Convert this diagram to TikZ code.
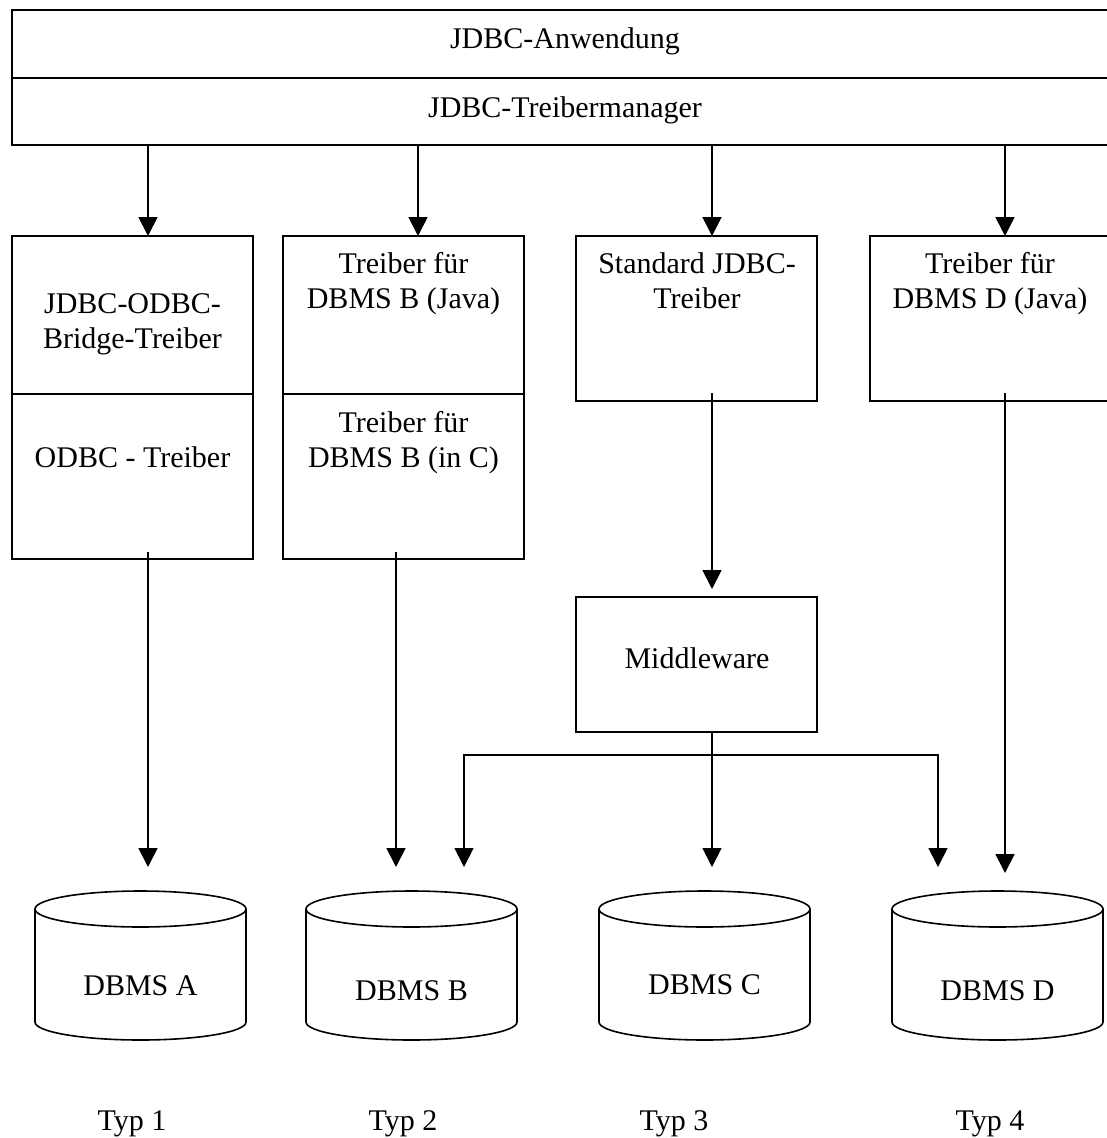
\documentclass[tikz,border=0pt]{standalone}
\usepackage{fontspec}
\setmainfont{Liberation Serif}
\usetikzlibrary{arrows.meta}
\newcommand\twolines[2]{\begin{tabular}[t]{@{}c@{}}#1\\#2\end{tabular}}
\begin{document}
\begin{tikzpicture}[x=1pt,y=-1pt,
  box/.style={draw, line width=1.8pt, inner sep=0pt, outer sep=0pt},
  lbl/.style={anchor=base, inner sep=0pt, font=\fontsize{30}{35}\selectfont},
  conn/.style={line width=1.8pt},
  tip/.tip={Triangle[width=19pt,length=19pt]},
  arr/.style={conn, -tip},
  cyl/.style={line width=1.6pt},
]
\useasboundingbox (0,0) rectangle (1107,1138);
\fill[white] (0,0) rectangle (1107,1138);

% top layers
\node[box, minimum width=1106pt, minimum height=68pt] (app) at (565,44) {};
\node[box, minimum width=1106pt, minimum height=67pt] (mgr) at (565,111.5) {};
\node[lbl] (tApp) at (565,48) {JDBC-Anwendung};
\node[lbl] (tMgr) at (565,117) {JDBC-Treibermanager};

% driver boxes
\node[box, minimum width=241pt, minimum height=158pt] (b1u) at (132.5,315) {};
\node[box, minimum width=241pt, minimum height=165pt] (b1l) at (132.5,476.5) {};
\node[box, minimum width=241pt, minimum height=158pt] (b2u) at (403.5,315) {};
\node[box, minimum width=241pt, minimum height=165pt] (b2l) at (403.5,476.5) {};
\node[box, minimum width=241pt, minimum height=165pt] (b3) at (696.5,318.5) {};
\node[box, minimum width=241pt, minimum height=165pt] (b4) at (990.5,318.5) {};
\node[box, minimum width=241pt, minimum height=135pt] (mw) at (696.5,664.5) {};

\node[lbl] (t1u) at (132.5,313) {\twolines{JDBC-ODBC-}{Bridge-Treiber}};
\node[lbl] (t1l) at (132.5,467) {ODBC - Treiber};
\node[lbl] (t2u) at (403.5,273) {\twolines{Treiber für}{DBMS B (Java)}};
\node[lbl] (t2l) at (403.5,432) {\twolines{Treiber für}{DBMS B (in C)}};
\node[lbl] (t3) at (697,273) {\twolines{Standard JDBC-}{Treiber}};
\node[lbl] (t4) at (990,273) {\twolines{Treiber für}{DBMS D (Java)}};
\node[lbl] (tMw) at (697,668) {Middleware};

% columns of the arrows
\coordinate (k1) at (148,0);
\coordinate (k2) at (418,0);
\coordinate (k3) at (712,0);
\coordinate (k4) at (1005,0);
\draw[arr] (mgr.south -| k1) -- (b1u.north -| k1);
\draw[arr] (mgr.south -| k2) -- (b2u.north -| k2);
\draw[arr] (mgr.south -| k3) -- (b3.north -| k3);
\draw[arr] (mgr.south -| k4) -- (b4.north -| k4);

% lower connectors
\coordinate (s1) at (148,552);  \coordinate (e1) at (148,867);
\coordinate (s2) at (396,552);  \coordinate (e2) at (396,867);
\coordinate (s3) at (712,393);  \coordinate (e3) at (712,589);
\coordinate (s4) at (1005,393); \coordinate (e4) at (1005,873);
\coordinate (e5) at (712,867);
\coordinate (eL) at (464,867);  \coordinate (eR) at (938,867);
\coordinate (hy) at (0,755);
\draw[arr] (s1) -- (e1);
\draw[arr] (s2) -- (e2);
\draw[arr] (s3) -- (e3);
\draw[arr] (s4) -- (e4);
\draw[arr] (mw.south -| k3) -- (e5);
\draw[conn, tip-tip] (eL) |- (eR |- hy) -- (eR);

% databases
\foreach \cx/\tx/\by in {140.5/A/995, 411.5/B/1000, 704.5/C/994, 997.5/D/1000}{
  \draw[cyl, fill=white] (\cx-105.5,909) -- (\cx-105.5,1022)
     arc[start angle=180, end angle=0, x radius=105.5, y radius=18]
     -- (\cx+105.5,909)
     arc[start angle=0, end angle=-180, x radius=105.5, y radius=18] -- cycle;
  \draw[cyl] (\cx-105.5,909) arc[start angle=180, end angle=0, x radius=105.5, y radius=18];
  \node[lbl] (db\tx) at (\cx,\by) {DBMS \tx};
}

% type labels
\node[lbl] (typ1) at (132,1130) {Typ 1};
\node[lbl] (typ2) at (403,1130) {Typ 2};
\node[lbl] (typ3) at (674,1130) {Typ 3};
\node[lbl] (typ4) at (990,1130) {Typ 4};
\end{tikzpicture}
\end{document}
